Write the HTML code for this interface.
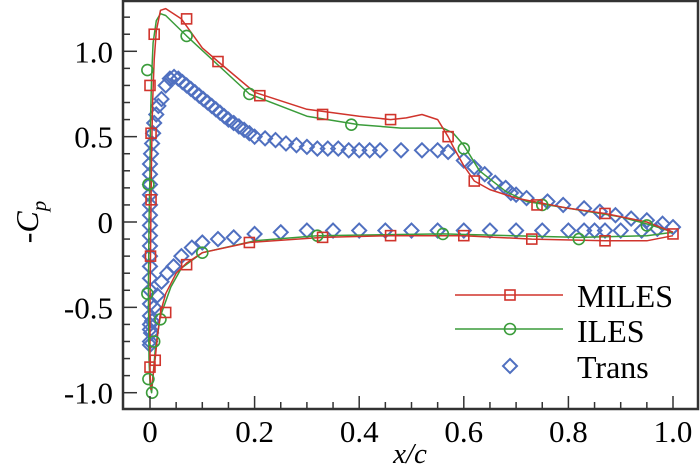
<!DOCTYPE html>
<html><head><meta charset="utf-8"><style>
html,body{margin:0;padding:0;background:#fff;}
svg{display:block;font-family:"Liberation Serif",serif;}
</style></head><body>
<svg id="chart" width="700" height="467" viewBox="0 0 700 467" xmlns="http://www.w3.org/2000/svg">
<g id="grid"></g>
<g id="series"></g>
<rect x="123" y="1" width="575" height="408" fill="none" stroke="#333" stroke-width="2.5"/>
<g id="axes"></g>
<text x="410" y="463" font-size="29" font-style="italic" text-anchor="middle">x/c</text>
<text transform="translate(38,222) rotate(-90)" font-size="32" text-anchor="middle">-<tspan font-style="italic">C</tspan><tspan font-style="italic" font-size="21" dy="8">p</tspan></text>
<g id="legend">
 <g>
  <line x1="455" y1="295" x2="563" y2="295" stroke="#d0342c" stroke-width="1.5"/>
  <rect x="505" y="290" width="10" height="10" fill="none" stroke="#d0342c" stroke-width="1.6"/>
  <text x="577" y="307" font-size="32">MILES</text>
 </g>
 <g>
  <line x1="455" y1="329" x2="563" y2="329" stroke="#3a9c3a" stroke-width="1.5"/>
  <circle cx="510" cy="329" r="5.5" fill="none" stroke="#3a9c3a" stroke-width="1.6"/>
  <text x="577" y="342" font-size="32">ILES</text>
 </g>
 <g>
  <path d="M510 359 L517 366 L510 373 L503 366 Z" fill="none" stroke="#5070c0" stroke-width="2"/>
  <text x="577" y="378" font-size="32">Trans</text>
 </g>
</g>
</svg>
<script>
const milesLineX=[1.0,0.95,0.87,0.8,0.7,0.65,0.62,0.6,0.58,0.57,0.55,0.52,0.49,0.46,0.4,0.3,0.2,0.13,0.1,0.06,0.03,0.02,0.012,0.008,0.005,0.003,0.002,0.001,0.0,0.0,0.001,0.002,0.004,0.007,0.01,0.015,0.02,0.03,0.05,0.07,0.1,0.19,0.33,0.46,0.6,0.73,0.87,0.95,1.0];
const milesLineY=[-0.06,0.0,0.05,0.08,0.14,0.19,0.24,0.33,0.44,0.5,0.6,0.63,0.61,0.6,0.62,0.66,0.76,0.94,1.02,1.19,1.25,1.24,1.12,0.95,0.7,0.4,0.1,-0.2,-0.5,-0.85,-0.95,-0.98,-0.95,-0.87,-0.8,-0.65,-0.53,-0.42,-0.3,-0.24,-0.18,-0.12,-0.09,-0.08,-0.08,-0.1,-0.11,-0.11,-0.08];
const milesMarkX=[0.008,0.07,0.13,0.21,0.33,0.46,0.57,0.62,0.74,0.87,1.0,0.87,0.73,0.6,0.46,0.33,0.19,0.07,0.03,0.01,0.0,0.001,0.002,0.002,0.0];
const milesMarkY=[1.1,1.19,0.94,0.74,0.63,0.6,0.5,0.24,0.1,0.05,-0.07,-0.11,-0.1,-0.08,-0.08,-0.09,-0.12,-0.25,-0.53,-0.81,-0.85,-0.2,0.13,0.52,0.8];
const ilesLineX=[1.0,0.96,0.9,0.8,0.72,0.68,0.63,0.6,0.58,0.56,0.48,0.4,0.3,0.19,0.07,0.03,0.02,0.012,0.006,0.003,0.001,0.0,-0.002,-0.003,-0.002,0.0,0.003,0.006,0.01,0.02,0.04,0.06,0.1,0.2,0.32,0.56,0.82,0.95,1.0];
const ilesLineY=[-0.06,-0.02,0.03,0.08,0.12,0.18,0.3,0.45,0.52,0.55,0.55,0.57,0.62,0.75,1.09,1.21,1.22,1.18,1.05,0.85,0.6,0.3,0.0,-0.4,-0.8,-0.95,-1.0,-0.9,-0.75,-0.55,-0.38,-0.27,-0.18,-0.11,-0.08,-0.07,-0.09,-0.08,-0.06];
const ilesMarkX=[-0.005,0.07,0.19,0.385,0.6,0.75,0.95,0.82,0.56,0.32,0.1,0.02,0.008,-0.005,-0.003,-0.003,0.004];
const ilesMarkY=[0.89,1.09,0.75,0.57,0.43,0.1,-0.02,-0.1,-0.07,-0.08,-0.18,-0.57,-0.7,-0.42,0.22,-0.92,-1.0];
const transX=[0.0,0.0,0.0,0.0,0.0,0.0,0.0,0.0,0.0,0.0,0.0,0.0,0.0,0.0,0.0,0.0,0.0,0.002,0.004,0.006,0.008,0.012,0.016,0.022,0.03,0.038,0.046,0.054,0.062,0.07,0.078,0.086,0.094,0.102,0.11,0.118,0.126,0.134,0.142,0.15,0.16,0.17,0.18,0.19,0.2,0.22,0.24,0.26,0.28,0.3,0.32,0.34,0.36,0.38,0.4,0.42,0.44,0.48,0.52,0.55,0.57,0.6,0.62,0.64,0.66,0.68,0.69,0.7,0.72,0.76,0.79,0.83,0.86,0.89,0.92,0.95,0.98,1.0,0.97,0.94,0.9,0.87,0.85,0.83,0.8,0.75,0.7,0.65,0.6,0.55,0.5,0.45,0.4,0.35,0.3,0.25,0.2,0.16,0.13,0.1,0.08,0.06,0.045,0.033,0.022,0.014,0.008,0.004,0.002,0.0,0.0];
const transY=[-0.7,-0.63,-0.55,-0.48,-0.4,-0.33,-0.26,-0.2,-0.14,-0.08,-0.02,0.04,0.1,0.16,0.22,0.28,0.34,0.4,0.46,0.52,0.58,0.63,0.68,0.72,0.8,0.84,0.85,0.84,0.82,0.8,0.78,0.76,0.74,0.72,0.7,0.68,0.66,0.64,0.62,0.6,0.58,0.56,0.54,0.52,0.5,0.49,0.48,0.46,0.45,0.44,0.43,0.43,0.43,0.42,0.42,0.42,0.42,0.42,0.42,0.42,0.41,0.36,0.32,0.28,0.23,0.2,0.17,0.16,0.14,0.12,0.1,0.08,0.06,0.04,0.02,0.01,-0.01,-0.03,-0.04,-0.05,-0.05,-0.05,-0.05,-0.05,-0.05,-0.05,-0.05,-0.05,-0.05,-0.05,-0.05,-0.05,-0.05,-0.05,-0.05,-0.06,-0.07,-0.09,-0.1,-0.12,-0.15,-0.2,-0.26,-0.3,-0.35,-0.43,-0.5,-0.58,-0.65,-0.72,-0.6];
const xTicks=[0,0.2,0.4,0.6,0.8,1.0];
const xTickLabels=["0","0.2","0.4","0.6","0.8","1.0"];
const yTicks=[-1.0,-0.5,0,0.5,1.0];
const yTickLabels=["-1.0","-0.5","0","0.5","1.0"];

const NS="http://www.w3.org/2000/svg";
const X0=150,XS=523,Y0=222,YS=170.7;
function sx(v){return X0+v*XS;}
function sy(v){return Y0-v*YS;}
function mk(tag,attrs,parent){const e=document.createElementNS(NS,tag);for(const k in attrs)e.setAttribute(k,attrs[k]);parent.appendChild(e);return e;}
const axes=document.getElementById('axes'),ser=document.getElementById('series');

for(let i=-1;i<=21;i++){const v=i*0.05;const x=sx(v);if(x<124||x>697)continue;
 const major=xTicks.some(t=>Math.abs(t-v)<1e-6);
 const t=mk('line',{x1:x,x2:x,y1:409,y2:409-(major?13:7),stroke:'#333','stroke-width':1.5},axes);
 
 }
for(let i=-11;i<=13;i++){const v=i*0.1;const y=sy(v);if(y<2||y>408)continue;
 const major=yTicks.some(t=>Math.abs(t-v)<1e-6);
 const t=mk('line',{x1:123,x2:123+(major?14:7),y1:y,y2:y,stroke:'#333','stroke-width':1.5},axes);
 
 }
xTicks.forEach((v,i)=>{const t=mk('text',{x:sx(v),y:442,'font-size':31,'text-anchor':'middle'},axes);t.textContent=xTickLabels[i];
 
 });
yTicks.forEach((v,i)=>{const t=mk('text',{x:113,y:sy(v)+11,'font-size':31,'text-anchor':'end'},axes);t.textContent=yTickLabels[i];
 
 });

function line(xs,ys,color,name){const d=xs.map((x,i)=>(i?'L':'M')+sx(x).toFixed(1)+' '+sy(ys[i]).toFixed(1)).join(' ');
 const p=mk('path',{d:d,fill:'none',stroke:color,'stroke-width':1.5,'stroke-linejoin':'round'},ser);
 
 }
transX.forEach((x,i)=>{const cx=sx(x),cy=sy(transY[i]);
 const p=mk('path',{d:`M${cx} ${cy-7}L${cx+7} ${cy}L${cx} ${cy+7}L${cx-7} ${cy}Z`,fill:'none',stroke:'#5070c0','stroke-width':2},ser);
 
 });
line(ilesLineX,ilesLineY,'#3a9c3a','iles-line');
line(milesLineX,milesLineY,'#d0342c','miles-line');
ilesMarkX.forEach((x,i)=>{const c=mk('circle',{cx:sx(x),cy:sy(ilesMarkY[i]),r:5.5,fill:'none',stroke:'#3a9c3a','stroke-width':1.6},ser);
 
 });
milesMarkX.forEach((x,i)=>{const r=mk('rect',{x:sx(x)-5,y:sy(milesMarkY[i])-5,width:10,height:10,fill:'none',stroke:'#d0342c','stroke-width':1.6},ser);
 
 });
</script>
</body></html>
